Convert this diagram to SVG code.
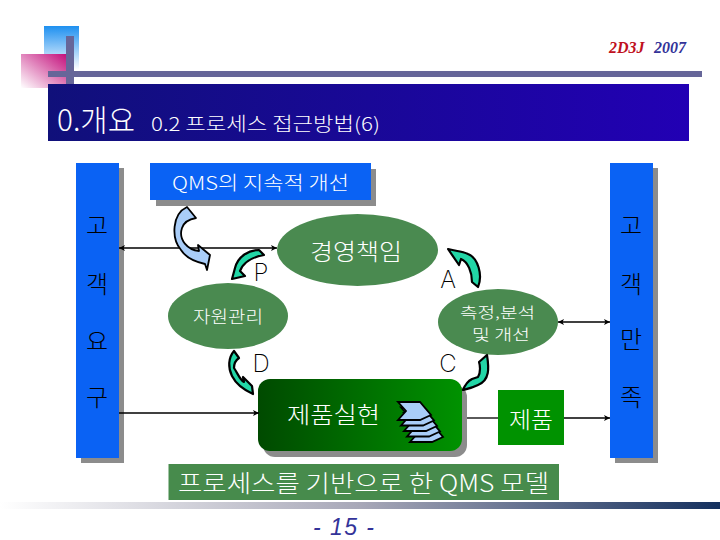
<svg xmlns="http://www.w3.org/2000/svg" width="720" height="540" viewBox="0 0 720 540">
<style>
text{font-family:"Noto Sans CJK KR","Liberation Sans",sans-serif;font-weight:300;fill:#fff}
.k{fill:#000;text-anchor:middle;font-size:24px}
.l{fill:#000;font-family:"Inter","Liberation Sans",sans-serif;font-size:24px;text-anchor:middle;font-weight:200}
.blue{fill:#0a62f4}
.sh{fill:#8c8c8c}
.el{fill:#4a8a50}
.ca{fill:#22d6a6;stroke:#000;stroke-width:2.200;stroke-linejoin:round}
.ln{stroke:#000;stroke-width:1.300;fill:none}
.ch{fill:#a9cdf8;stroke:#000;stroke-width:1.800;stroke-linejoin:miter}
</style>
<defs>
<linearGradient id="gb" x1="0" y1="0" x2="0" y2="1"><stop offset="0" stop-color="#1e90f0"/><stop offset="0.95" stop-color="#fff"/></linearGradient>
<linearGradient id="gp" x1="1" y1="0" x2="0" y2="1"><stop offset="0" stop-color="#c4107c"/><stop offset="1" stop-color="#fff"/></linearGradient>
<linearGradient id="gt" x1="0" y1="0" x2="1" y2="0"><stop offset="0" stop-color="#10107a"/><stop offset="1" stop-color="#2200b4"/></linearGradient>
<linearGradient id="gg" x1="0" y1="0" x2="1" y2="0"><stop offset="0" stop-color="#004a00"/><stop offset="1" stop-color="#009200"/></linearGradient>
<linearGradient id="gf" x1="0" y1="0" x2="1" y2="0"><stop offset="0" stop-color="#fff"/><stop offset="0.5" stop-color="#a8a8b8"/><stop offset="1" stop-color="#14305e"/></linearGradient>
<marker id="ah" markerWidth="8" markerHeight="8" refX="6" refY="3" orient="auto-start-reverse" markerUnits="userSpaceOnUse"><path d="M0,0L6,3L0,6L1.500,3Z" fill="#000"/></marker>
<g id="chev"><path class="ch" d="M398,402H420L431,415L420,420H398L406,411Z"/></g>
</defs>

<g id="header">
<rect x="44" y="26" width="35" height="46" fill="url(#gb)"/>
<rect x="21" y="54" width="45" height="34" fill="url(#gp)"/>
<rect x="66" y="36" width="8" height="48" fill="#666699"/>
<rect x="48" y="71" width="654" height="6" fill="#666699"/>
<rect x="48" y="84" width="641" height="57" fill="url(#gt)"/>
<text x="57" y="131" font-size="30" textLength="78" lengthAdjust="spacingAndGlyphs">0.개요</text>
<text x="151" y="131" font-size="19" textLength="229" lengthAdjust="spacingAndGlyphs">0.2 프로세스 접근방법(6)</text>
<text x="609" y="53" style="font-family:'Liberation Serif',serif;font-weight:700;font-style:italic;fill:#c01020" font-size="16">2D3J</text>
<text x="654" y="53" style="font-family:'Liberation Serif',serif;font-weight:700;font-style:italic;fill:#333399" font-size="16">2007</text>
</g>

<g id="customer-req">
<rect class="sh" x="81" y="168" width="43" height="295"/>
<rect class="blue" x="76" y="163" width="43" height="295"/>
<text class="k" x="97" y="234">고</text><text class="k" x="97" y="293">객</text><text class="k" x="97" y="350">요</text><text class="k" x="97" y="406">구</text>
</g>
<g id="customer-sat">
<rect class="sh" x="615" y="168" width="43" height="295"/>
<rect class="blue" x="610" y="163" width="43" height="295"/>
<text class="k" x="631" y="234">고</text><text class="k" x="631" y="293">객</text><text class="k" x="631" y="348">만</text><text class="k" x="631" y="406">족</text>
</g>
<g id="qms">
<rect class="sh" x="156" y="169" width="220" height="37"/>
<rect class="blue" x="150" y="163" width="221" height="37"/>
<text x="172" y="190" font-size="19" textLength="177" lengthAdjust="spacingAndGlyphs">QMS의 지속적 개선</text>
</g>
<g id="mgmt">
<ellipse class="el" cx="357.500" cy="250" rx="80.500" ry="36"/>
<text x="310" y="260" font-size="23" textLength="92" lengthAdjust="spacingAndGlyphs">경영책임</text>
</g>
<g id="resource">
<ellipse class="el" cx="228" cy="316" rx="60" ry="33"/>
<text x="193" y="323" font-size="17" textLength="70" lengthAdjust="spacingAndGlyphs">자원관리</text>
</g>
<g id="measure">
<ellipse class="el" cx="498" cy="322" rx="60" ry="33"/>
<text x="460" y="318" font-size="15" textLength="75" lengthAdjust="spacingAndGlyphs">측정,분석</text>
<text x="472" y="340" font-size="15" textLength="58" lengthAdjust="spacingAndGlyphs">및 개선</text>
</g>
<g id="realization">
<rect class="sh" x="263" y="385" width="204" height="72" rx="12"/>
<rect x="258" y="379" width="204" height="72" rx="12" fill="url(#gg)"/>
<text x="287" y="423" font-size="23" textLength="93" lengthAdjust="spacingAndGlyphs">제품실현</text>
<use href="#chev" x="12" y="22"/><use href="#chev" x="9" y="16.500"/><use href="#chev" x="6" y="11"/><use href="#chev" x="3" y="5.500"/><use href="#chev"/>
</g>
<g id="product">
<rect x="498" y="390" width="66" height="55" fill="#009200"/>
<text x="509" y="428" font-size="23" textLength="44" lengthAdjust="spacingAndGlyphs">제품</text>
</g>

<g id="connectors">
<line class="ln" x1="119" y1="248" x2="277" y2="248" marker-start="url(#ah)" marker-end="url(#ah)"/>
<line class="ln" x1="558" y1="322" x2="610" y2="322" stroke-width="1.600" marker-start="url(#ah)" marker-end="url(#ah)"/>
<line class="ln" x1="119" y1="413" x2="259" y2="413" marker-end="url(#ah)"/>
<line class="ln" x1="467" y1="418" x2="498" y2="418"/>
<line class="ln" x1="564" y1="418" x2="610" y2="418" marker-end="url(#ah)"/>
<path id="big-arrow" d="M187,207C172,214 171,238 181,250C186,258 196,262 205,264L207,270L210,255L198,245L199,251C188,250 178,240 182,228C184,222 190,219 196,218Z" fill="#a9cdf8" stroke="#000" stroke-width="1.800" stroke-linejoin="round"/>
<path class="ca" d="M259,250C249,250 238,256 235,268L232,279L245,276L240,271C243,263 252,257 264,255Z"/>
<path class="ca" d="M448,249L459,265L461,259C468,262 472,272 472,282L478,287C483,275 478,258 468,254C462,251 455,251 448,249Z"/>
<path class="ca" d="M234,351C228,358 228,368 232,376C236,384 242,389 253,394L252,386L243,377L244,382C240,380 238,374 234,368C234,363 236,360 239,358Z"/>
<path class="ca" d="M487,355C489,368 490,380 478,385C472,388 467,389 463,390C465,385 468,381 472,379L478,377C481,372 480,365 479,362Z"/>
</g>
<text class="l" x="261" y="281">P</text>
<text class="l" x="448" y="288">A</text>
<text class="l" x="261" y="372">D</text>
<text class="l" x="448" y="372">C</text>
<g id="caption">
<rect x="168.500" y="464" width="390.500" height="36" fill="#478b4c"/>
<text x="178" y="492" font-size="24" textLength="371" lengthAdjust="spacingAndGlyphs">프로세스를 기반으로 한 QMS 모델</text>
</g>
<g id="footer">
<rect x="0" y="502" width="720" height="7" fill="url(#gf)"/>
<text x="313" y="535" style="font-family:'Liberation Sans',sans-serif;font-style:italic;font-weight:400;fill:#333399" font-size="23" textLength="61">- 15 -</text>
</g>
</svg>
